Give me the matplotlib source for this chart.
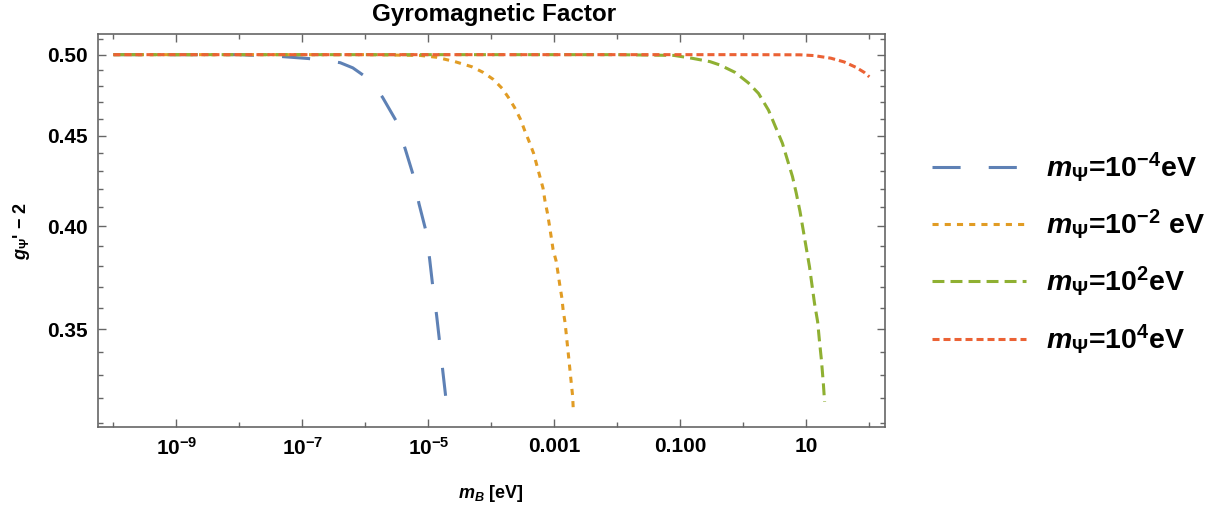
import numpy as np
import matplotlib
matplotlib.use('Agg')
import matplotlib.pyplot as plt

###########################################################
# data (x as log10(m_B / eV))

labels = [r'$m_\Psi$=10$^{-4}$eV', r'$m_\Psi$=10$^{-2}$ eV',
          r'$m_\Psi$=10$^{2}$eV', r'$m_\Psi$=10$^{4}$eV']

logx_blue = [-10.0, -8.0, -7.34, -6.91, -6.62, -6.40, -6.20, -6.04, -5.88, -5.73, -5.51,
             -5.37, -5.24, -5.15, -5.04, -4.98, -4.93, -4.87, -4.82, -4.77, -4.72]
g_blue = [0.5, 0.5, 0.4988, 0.4975, 0.4962, 0.4948, 0.4915, 0.4870, 0.4808, 0.4732, 0.4587,
          0.4426, 0.4275, 0.4121, 0.3978, 0.3834, 0.3699, 0.3565, 0.3439, 0.3312, 0.3195]

logx_orange = [-10.0, -6.0, -5.13, -4.87, -4.58, -4.31, -4.13, -3.97, -3.83, -3.73,
               -3.63, -3.54, -3.47, -3.40, -3.33, -3.28, -3.23, -3.18, -3.15, -3.11,
               -3.08, -3.05, -3.02, -2.97, -2.94, -2.91, -2.88, -2.86, -2.83, -2.81,
               -2.79, -2.77, -2.75, -2.73, -2.71, -2.70]
g_orange = [0.5, 0.5, 0.4995, 0.4983, 0.4955, 0.4922, 0.4886, 0.4842, 0.4786, 0.4730,
            0.4667, 0.4599, 0.4530, 0.4466, 0.4399, 0.4333, 0.4268, 0.4204, 0.4137, 0.4070,
            0.4009, 0.3945, 0.3881, 0.3822, 0.3761, 0.3699, 0.3644, 0.3586, 0.3530, 0.3475,
            0.3420, 0.3367, 0.3313, 0.3260, 0.3209, 0.3155]

logx_green = [-10.0, -2.0, -1.1, -0.82, -0.53, -0.37, -0.13, 0.08, 0.24, 0.40, 0.51,
              0.62, 0.70, 0.78, 0.84, 0.90, 0.95, 1.00, 1.05, 1.09, 1.13, 1.18, 1.21,
              1.24, 1.27, 1.29]
g_green = [0.5, 0.5, 0.4995, 0.4977, 0.4955, 0.4933, 0.4886, 0.4820, 0.4755, 0.4652, 0.4553,
           0.4457, 0.4361, 0.4268, 0.4177, 0.4078, 0.3982, 0.3888, 0.3797, 0.3707, 0.3620,
           0.3534, 0.3443, 0.3362, 0.3263, 0.3185]

logx_red = [-10.0, 0.0, 0.9, 1.12, 1.39, 1.60, 1.79, 1.92, 2.0]
g_red = [0.5, 0.5, 0.4999, 0.4994, 0.4977, 0.4953, 0.4918, 0.4886, 0.4858]

xticks_major = [1e-9, 1e-7, 1e-5, 1e-3, 1e-1, 1e1]
xticklabels = [r'$10^{-9}$', r'$10^{-7}$', r'$10^{-5}$', '0.001', '0.100', '10']
xticks_minor = [1e-10, 1e-8, 1e-6, 1e-4, 1e-2, 1e0, 1e2]
yticks_major = [0.35, 0.40, 0.45, 0.50]
yticks_minor = [0.31, 0.32, 0.33, 0.34, 0.36, 0.37, 0.38, 0.39,
                0.41, 0.42, 0.43, 0.44, 0.46, 0.47, 0.48, 0.49, 0.51]

###########################################################
# styles

plt.rcParams['font.family'] = ['Liberation Sans', 'DejaVu Sans']
plt.rcParams['font.weight'] = 'bold'
plt.rcParams['mathtext.fontset'] = 'custom'
plt.rcParams['mathtext.rm'] = 'Liberation Sans:bold'
plt.rcParams['mathtext.it'] = 'Liberation Sans:italic:bold'
plt.rcParams['mathtext.bf'] = 'Liberation Sans:bold'

colors = ['#5E81B5', '#E19C24', '#8FB032', '#EB6235']
dashes = [(9.2, 9.2), (2.0, 2.0), (3.9, 2.0), (2.3, 1.3)]
frame_col = '#666666'

fig = plt.figure(figsize=(12.32, 5.08), dpi=100)
ax = fig.add_axes([0.0793, 0.1585, 0.6393, 0.774])

series = [(logx_blue, g_blue), (logx_orange, g_orange),
          (logx_green, g_green), (logx_red, g_red)]
for (lx, gy), col, ds, lab in zip(series, colors, dashes, labels):
    ax.plot(10.0 ** np.array(lx), gy, color=col, lw=2.2, dashes=ds, label=lab,
            dash_capstyle='butt')

ax.set_xscale('log')
ax.set_yscale('log')
ax.set_xlim(10 ** -10.25, 10 ** 2.254)
ax.set_ylim(0.3081, 0.5134)

ax.set_xticks(xticks_major)
ax.set_xticklabels(xticklabels)
ax.set_xticks(xticks_minor, minor=True)
ax.set_xticklabels([], minor=True)
ax.set_yticks(yticks_major)
ax.set_yticklabels(['%.2f' % v for v in yticks_major])
ax.set_yticks(yticks_minor, minor=True)
ax.set_yticklabels([], minor=True)

ax.tick_params(which='both', direction='in', top=True, right=True,
               color=frame_col, width=1.0, labelsize=15)
ax.tick_params(which='major', length=6, pad=7)
ax.tick_params(which='minor', length=3.5)
for sp in ax.spines.values():
    sp.set_color(frame_col)
    sp.set_linewidth(1.2)

fig.text(494 / 1232, 1 - 14 / 508, 'Gyromagnetic Factor', fontsize=17.5,
         fontweight='bold', ha='center', va='center')
fig.text(491 / 1232, 1 - 494 / 508, r'$m_B$ [eV]', fontsize=13,
         ha='center', va='center')
fig.text(21 / 1232, 1 - 231 / 508, r"$g_\Psi$' $-$ 2", fontsize=13,
         ha='center', va='center', rotation=90)

fig.legend(loc='upper left', bbox_to_anchor=(931.7 / 1232, 1 - 150 / 508),
           frameon=False, fontsize=20.5, handlelength=3.3, handletextpad=0.7,
           labelspacing=0.83, borderpad=0, borderaxespad=0)

plt.savefig('out.png', dpi=100)
